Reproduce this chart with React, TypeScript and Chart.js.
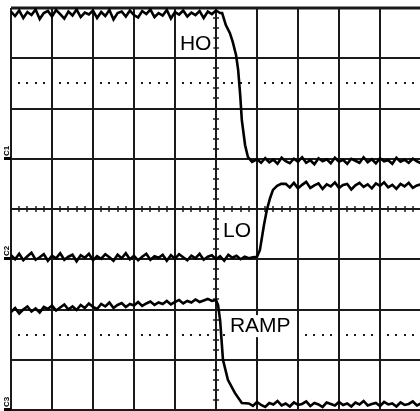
import React, { useEffect, useRef } from "react";
import { Chart, registerables } from "chart.js";

Chart.register(...registerables);

// Time axis in divisions (0..10), amplitude in divisions (0..8)
const hoTime = [
  0, 0.1, 0.2, 0.3, 0.4, 0.5, 0.6, 0.7, 0.8, 0.9, 1.0, 1.1, 1.2, 1.3, 1.4, 1.5, 1.6, 1.7, 1.8, 1.9,
  2.0, 2.1, 2.2, 2.3, 2.4, 2.5, 2.6, 2.7, 2.8, 2.9, 3.0, 3.1, 3.2, 3.3, 3.4, 3.5, 3.6, 3.7, 3.8, 3.9,
  4.0, 4.1, 4.2, 4.3, 4.4, 4.5, 4.6, 4.7, 4.8, 4.9, 5.0, 5.1,
  5.15, 5.24, 5.34, 5.41, 5.49, 5.54, 5.59, 5.63, 5.71, 5.78, 5.88,
  6.0, 6.1, 6.2, 6.3, 6.4, 6.5, 6.6, 6.7, 6.8, 6.9, 7.0, 7.1, 7.2, 7.3, 7.4, 7.5, 7.6, 7.7, 7.8, 7.9,
  8.0, 8.1, 8.2, 8.3, 8.4, 8.5, 8.6, 8.7, 8.8, 8.9, 9.0, 9.1, 9.2, 9.3, 9.4, 9.5, 9.6, 9.7, 9.8, 9.9,
  10.0, 10.1, 10.2,
];
const hoLevel = [
  7.93, 7.84, 7.95, 7.8, 7.92, 7.86, 7.97, 7.78, 7.9, 7.94, 7.83, 7.96, 7.88, 7.79, 7.93, 7.85, 7.97, 7.82, 7.91, 7.87,
  7.95, 7.8, 7.92, 7.84, 7.96, 7.77, 7.9, 7.93, 7.83, 7.95, 7.86, 7.81, 7.94, 7.88, 7.97, 7.82, 7.9, 7.85, 7.96, 7.79,
  7.92, 7.87, 7.95, 7.83, 7.91, 7.86, 7.94, 7.8, 7.93, 7.88, 7.95, 7.9,
  7.9, 7.66, 7.5, 7.32, 7.06, 6.77, 6.27, 5.77, 5.27, 5.03, 4.94,
  4.99, 4.92, 5.01, 4.93, 4.98, 4.9, 5.02, 4.95, 4.91, 5.0, 4.94, 5.03, 4.92, 4.97, 4.89, 5.01, 4.95, 4.99, 4.91, 5.02,
  4.94, 4.98, 4.9, 5.0, 4.96, 4.92, 5.03, 4.93, 4.99, 4.91, 5.01, 4.95, 4.97, 4.9, 5.02, 4.94, 4.98, 4.92, 5.0, 4.95,
  4.91, 5.01, 4.96,
];

const loTime = [
  0, 0.1, 0.2, 0.3, 0.4, 0.5, 0.6, 0.7, 0.8, 0.9, 1.0, 1.1, 1.2, 1.3, 1.4, 1.5, 1.6, 1.7, 1.8, 1.9,
  2.0, 2.1, 2.2, 2.3, 2.4, 2.5, 2.6, 2.7, 2.8, 2.9, 3.0, 3.1, 3.2, 3.3, 3.4, 3.5, 3.6, 3.7, 3.8, 3.9,
  4.0, 4.1, 4.2, 4.3, 4.4, 4.5, 4.6, 4.7, 4.8, 4.9, 5.0, 5.1, 5.2, 5.3, 5.4, 5.5, 5.6, 5.7, 5.8, 5.9,
  6.0, 6.07, 6.17, 6.24, 6.32, 6.39, 6.49, 6.59,
  6.7, 6.8, 6.9, 7.0, 7.1, 7.2, 7.3, 7.4, 7.5, 7.6, 7.7, 7.8, 7.9, 8.0, 8.1, 8.2, 8.3, 8.4, 8.5, 8.6,
  8.7, 8.8, 8.9, 9.0, 9.1, 9.2, 9.3, 9.4, 9.5, 9.6, 9.7, 9.8, 9.9, 10.0, 10.1, 10.2,
];
const loLevel = [
  3.08, 3.0, 3.11, 2.98, 3.06, 3.13, 2.99, 3.04, 3.1, 2.97, 3.07, 3.02, 3.12, 2.99, 3.05, 3.09, 2.96, 3.08, 3.03, 3.11,
  2.98, 3.06, 3.01, 3.1, 3.04, 2.97, 3.09, 3.02, 3.12, 3.0, 3.07, 2.98, 3.05, 3.11, 2.99, 3.06, 3.03, 3.09, 2.97, 3.08,
  3.01, 3.1, 3.04, 2.98, 3.07, 3.02, 3.11, 2.99, 3.05, 3.08, 3.0, 3.06, 2.97, 3.09, 3.03, 3.07, 3.0, 3.05, 3.02, 3.04,
  3.05, 3.18, 3.68, 3.98, 4.22, 4.38, 4.46, 4.5,
  4.5, 4.43, 4.52, 4.41, 4.48, 4.54, 4.42, 4.47, 4.51, 4.4, 4.49, 4.45, 4.53, 4.42, 4.48, 4.5, 4.39, 4.47, 4.52, 4.44,
  4.49, 4.41, 4.51, 4.46, 4.53, 4.43, 4.48, 4.4, 4.5, 4.45, 4.52, 4.42, 4.47, 4.49, 4.44, 4.5,
];

const rampTime = [
  0, 0.1, 0.2, 0.3, 0.4, 0.5, 0.6, 0.7, 0.8, 0.9, 1.0, 1.1, 1.2, 1.3, 1.4, 1.5, 1.6, 1.7, 1.8, 1.9,
  2.0, 2.1, 2.2, 2.3, 2.4, 2.5, 2.6, 2.7, 2.8, 2.9, 3.0, 3.1, 3.2, 3.3, 3.4, 3.5, 3.6, 3.7, 3.8, 3.9,
  4.0, 4.1, 4.2, 4.3, 4.4, 4.5, 4.6, 4.7, 4.8, 4.9,
  5.0, 5.05, 5.1, 5.17, 5.29, 5.46, 5.63,
  5.8, 5.9, 6.0, 6.1, 6.2, 6.3, 6.4, 6.5, 6.6, 6.7, 6.8, 6.9, 7.0, 7.1, 7.2, 7.3, 7.4, 7.5, 7.6, 7.7,
  7.8, 7.9, 8.0, 8.1, 8.2, 8.3, 8.4, 8.5, 8.6, 8.7, 8.8, 8.9, 9.0, 9.1, 9.2, 9.3, 9.4, 9.5, 9.6, 9.7,
  9.8, 9.9, 10.0, 10.1, 10.2,
];
const rampLevel = [
  1.95, 2.03, 1.92, 2.0, 2.06, 1.96, 2.02, 1.94, 2.05, 2.01,
  2.08, 1.98, 2.04, 2.1, 2.0, 2.06, 1.99, 2.09, 2.03, 2.12,
  2.05, 2.01, 2.11, 2.06, 2.14, 2.03, 2.09, 2.13, 2.05, 2.11,
  2.08, 2.15, 2.07, 2.12, 2.16, 2.09, 2.14, 2.11, 2.17, 2.1,
  2.15, 2.19, 2.12, 2.17, 2.14, 2.2, 2.15, 2.18, 2.21, 2.17,
  2.19, 2.09, 1.79, 1.0, 0.6, 0.34, 0.14,
  0.13, 0.08, 0.16, 0.1, 0.06, 0.14, 0.11, 0.18, 0.09, 0.13,
  0.07, 0.15, 0.1, 0.12, 0.17, 0.08, 0.14, 0.11, 0.06, 0.15,
  0.12, 0.09, 0.16, 0.1, 0.13, 0.07, 0.15, 0.11, 0.18, 0.09,
  0.12, 0.14, 0.08, 0.16, 0.11, 0.13, 0.07, 0.15, 0.1, 0.12,
  0.17, 0.09, 0.13, 0.11, 0.14,
];

const traceLabels = ["HO", "LO", "RAMP"];
const labelX = [4.12, 5.17, 5.34];
const labelY = [7.16, 3.44, 1.55];

const groundMarks = ["1", "2", "3"];
const groundLevels = [5, 3, 0];

const dottedRows = [6.5, 1.5];
const xDivisions = 10;
const yDivisions = 8;

const zip = (t: number[], v: number[]) => t.map((x, i) => ({ x, y: v[i] }));

const gridPlugin = {
  id: "scopeGrid",
  beforeDatasetsDraw(chart: any) {
    const { ctx, chartArea, scales } = chart;
    const xs = scales.x;
    const ys = scales.y;
    ctx.save();
    ctx.fillStyle = "#fff";
    ctx.fillRect(0, 0, chart.width, chart.height);
    ctx.strokeStyle = "#1a1a1a";
    ctx.lineWidth = 2;
    for (let i = 0; i <= xDivisions; i++) {
      const px = Math.round(xs.getPixelForValue(i));
      ctx.beginPath();
      ctx.moveTo(px, chartArea.top);
      ctx.lineTo(px, chartArea.bottom);
      ctx.stroke();
    }
    for (let j = 0; j <= yDivisions; j++) {
      const py = Math.round(ys.getPixelForValue(j));
      ctx.lineWidth = j === yDivisions ? 3 : 2;
      ctx.beginPath();
      ctx.moveTo(chartArea.left, py);
      ctx.lineTo(chartArea.right, py);
      ctx.stroke();
    }
    const cx = Math.round(xs.getPixelForValue(xDivisions / 2));
    const cy = Math.round(ys.getPixelForValue(yDivisions / 2));
    ctx.lineWidth = 1.5;
    for (let k = 0; k <= xDivisions * 5; k++) {
      const px = Math.round(xs.getPixelForValue(k / 5));
      ctx.beginPath();
      ctx.moveTo(px, cy - 3);
      ctx.lineTo(px, cy + 3);
      ctx.stroke();
    }
    for (let k = 0; k <= yDivisions * 5; k++) {
      const py = Math.round(ys.getPixelForValue(k / 5));
      ctx.beginPath();
      ctx.moveTo(cx - 3, py);
      ctx.lineTo(cx + 3, py);
      ctx.stroke();
    }
    ctx.fillStyle = "#1a1a1a";
    dottedRows.forEach((r) => {
      const py = Math.round(ys.getPixelForValue(r));
      for (let k = 0; k < xDivisions * 5; k++) {
        if (k % 5 === 0) continue;
        const px = Math.round(xs.getPixelForValue(k / 5));
        ctx.fillRect(px - 1, py - 1, 2, 2);
      }
    });
    ctx.font = "bold 8px 'Liberation Sans', Arial, sans-serif";
    ctx.textAlign = "center";
    ctx.textBaseline = "middle";
    ctx.fillStyle = "#000";
    groundMarks.forEach((m, i) => {
      const py = Math.round(ys.getPixelForValue(groundLevels[i]));
      ctx.fillRect(4, py - 2, chartArea.left - 4, 3);
      ctx.save();
      ctx.translate(7, py - 8);
      ctx.rotate(-Math.PI / 2);
      ctx.fillText("C" + m, 0, 0);
      ctx.restore();
    });
    ctx.restore();
  },
  afterDatasetsDraw(chart: any) {
    const { ctx, scales } = chart;
    ctx.save();
    ctx.font = "21px 'Liberation Sans', Arial, sans-serif";
    ctx.textAlign = "left";
    ctx.textBaseline = "alphabetic";
    traceLabels.forEach((t, i) => {
      const px = scales.x.getPixelForValue(labelX[i]);
      const py = scales.y.getPixelForValue(labelY[i]);
      const w = ctx.measureText(t).width;
      ctx.fillStyle = "#fff";
      ctx.fillRect(px - 2, py - 17, w + 4, 22);
      ctx.fillStyle = "#000";
      ctx.fillText(t, px, py);
    });
    ctx.restore();
  },
};

export default function App() {
  const ref = useRef<HTMLCanvasElement | null>(null);
  useEffect(() => {
    if (!ref.current) return;
    const mk = (data: { x: number; y: number }[]) => ({
      data,
      borderColor: "#000",
      borderWidth: 2.6,
      pointRadius: 0,
      tension: 0,
      fill: false,
    });
    const chart = new Chart(ref.current, {
      type: "line",
      data: {
        datasets: [
          mk(zip(hoTime, hoLevel)),
          mk(zip(loTime, loLevel)),
          mk(zip(rampTime, rampLevel)),
        ],
      },
      options: {
        animation: false,
        responsive: false,
        devicePixelRatio: 1,
        layout: { padding: { left: 11, top: 8, right: 9, bottom: 1 } },
        scales: {
          x: { type: "linear", min: 0, max: xDivisions, display: false },
          y: { type: "linear", min: 0, max: yDivisions, display: false },
        },
        plugins: { legend: { display: false }, tooltip: { enabled: false } },
      },
      plugins: [gridPlugin],
    });
    return () => chart.destroy();
  }, []);
  return (
    <div
      style={{
        position: "fixed",
        left: 0,
        top: 0,
        width: 420,
        height: 411,
        overflow: "hidden",
        background: "#fff",
      }}
    >
      <canvas ref={ref} width={430} height={411} style={{ display: "block" }} />
    </div>
  );
}
